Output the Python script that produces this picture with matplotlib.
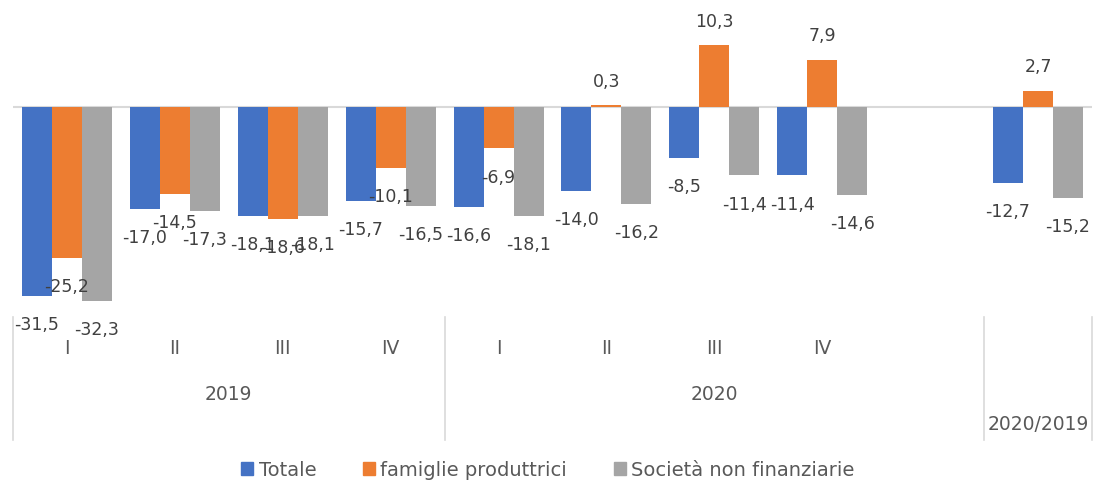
import numpy as np
import matplotlib.pyplot as plt
from matplotlib.patches import Patch

quarters = ['I', 'II', 'III', 'IV', 'I', 'II', 'III', 'IV', '', '']
years = ['2019', '2020', '2020/2019']
year_spans = [(0, 4), (4, 9), (9, 10)]

totale = [-31.5, -17.0, -18.1, -15.7, -16.6, -14.0, -8.5, -11.4, np.nan, -12.7]
famiglie = [-25.2, -14.5, -18.6, -10.1, -6.9, 0.3, 10.3, 7.9, np.nan, 2.7]
societa = [-32.3, -17.3, -18.1, -16.5, -18.1, -16.2, -11.4, -14.6, np.nan, -15.2]

series = [('Totale', totale, '#4472C4'),
          ('famiglie produttrici', famiglie, '#ED7D31'),
          ('Società non finanziarie', societa, '#A5A5A5')]

txt = '#404040'
fig = plt.figure(figsize=(10.96, 4.9), dpi=100)
ax = fig.add_axes([13 / 1096, 1 - 317 / 490, 1079 / 1096, 300 / 490])

x = np.arange(len(quarters))
w = 0.278
for i, (name, vals, col) in enumerate(series):
    pos = x + (i - 1) * w
    ax.bar(pos, vals, width=w, color=col, label=name)
    for px, v in zip(pos, vals):
        if np.isnan(v):
            continue
        off = 21 if v < 0 else 17
        ax.annotate(f'{v:.1f}'.replace('.', ','), (px, v),
                    xytext=(0, -off if v < 0 else off), textcoords='offset points',
                    ha='center', va='center', fontsize=12.5, color=txt)

ax.axhline(0, color='#d9d9d9', lw=1.5, zorder=0)
ax.set_xlim(-0.5, len(quarters) - 0.5)
ax.set_ylim(-35, 15)
ax.set_yticks([])
ax.set_xticks(x)
ax.set_xticklabels(quarters, fontsize=13.5, color='#595959')
ax.tick_params(axis='x', length=0, pad=16)
for s in ax.spines.values():
    s.set_visible(False)

tr = ax.get_xaxis_transform()
for name, (a, b) in zip(years, year_spans):
    ypos = -0.36 if b - a == 1 else -0.26
    ax.text((a + b - 1) / 2, ypos, name, transform=tr, ha='center', va='center',
            fontsize=13.5, color='#595959')
for b in [0, 4, 9, 10]:
    ax.plot([b - 0.5, b - 0.5], [0, -0.41], transform=tr, color='#d9d9d9',
            lw=1.2, clip_on=False)

handles = [Patch(color=c, label=n) for n, _, c in series]
fig.legend(handles=handles, loc='center', bbox_to_anchor=(0.5, 1 - 470 / 490), ncol=3,
           frameon=False, fontsize=14, handlelength=0.6, handleheight=0.6,
           handletextpad=0.3, columnspacing=2.4, labelcolor='#595959')

fig.savefig('out.png', dpi=100)
